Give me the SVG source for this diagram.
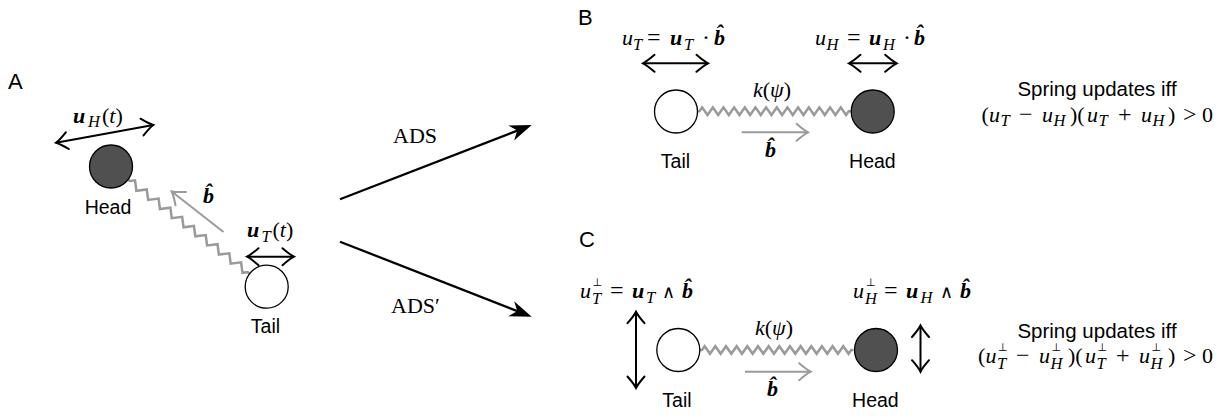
<svg xmlns="http://www.w3.org/2000/svg" width="1231" height="418" viewBox="0 0 1231 418">
<style>
.sans{font-family:"Liberation Sans",Arial,sans-serif;fill:#000}
.lbl{font-size:22px}
.nm{font-size:19.5px}
.m{font-family:"Liberation Serif","DejaVu Serif",serif;font-size:22px;fill:#000}
.it{font-style:italic}
.bi{font-style:italic;font-weight:bold}
.sb{font-size:16.5px;font-style:italic;font-weight:normal}
.op{font-family:"Liberation Serif","DejaVu Serif",serif;font-size:24px;font-style:normal;font-weight:normal}
.wedge{font-family:"DejaVu Serif",serif;font-size:18px;font-style:normal;font-weight:normal}
.perp{font-family:"DejaVu Sans",sans-serif;font-size:11px;font-style:normal}
.blk{stroke:#000;stroke-width:2;fill:none}
.gry{stroke:#9a9a9a;stroke-width:2;fill:none}
.spr{stroke:#9a9a9a;stroke-width:2.5;fill:none;stroke-linejoin:miter}
.big{stroke:#000;stroke-width:2.3;fill:none}
.tailc{fill:#fff;stroke:#000;stroke-width:1.3}
.headc{fill:#505050;stroke:#000;stroke-width:1.3}
</style>
<defs>
<marker id="oh" viewBox="-13 -10 16 20" refX="0" refY="0" markerWidth="16" markerHeight="20" markerUnits="userSpaceOnUse" orient="auto-start-reverse"><path d="M -11.5 -8.5 Q -4 -2 0 0 Q -4 2 -11.5 8.5" fill="none" stroke="#000" stroke-width="2" stroke-linecap="round"/></marker>
<marker id="ohg" viewBox="-13 -10 16 20" refX="0" refY="0" markerWidth="16" markerHeight="20" markerUnits="userSpaceOnUse" orient="auto-start-reverse"><path d="M -11.5 -8.5 Q -4 -2 0 0 Q -4 2 -11.5 8.5" fill="none" stroke="#9a9a9a" stroke-width="2" stroke-linecap="round"/></marker>
<marker id="st" viewBox="-13 -10 26 20" refX="0" refY="0" markerWidth="26" markerHeight="20" markerUnits="userSpaceOnUse" orient="auto"><path d="M 10 0 L -12 -8 L -5.5 0 L -12 8 Z" fill="#000"/></marker>
<path id="sprH" d="M0 0 L2 0 L4.67 -3.8 L10 3.8 L15.33 -3.8 L20.66 3.8 L25.99 -3.8 L31.32 3.8 L36.65 -3.8 L41.98 3.8 L47.31 -3.8 L52.64 3.8 L57.97 -3.8 L63.3 3.8 L68.63 -3.8 L73.96 3.8 L79.29 -3.8 L84.62 3.8 L89.95 -3.8 L95.28 3.8 L100.61 -3.8 L105.94 3.8 L111.27 -3.8 L116.6 3.8 L121.93 -3.8 L127.26 3.8 L132.59 -3.8 L137.92 3.8 L143.25 -3.8 L148.58 3.8 L151.24 0 L153.3 0"/>
<path id="sprA" d="M0 0 L2 0 L5.73 -3.7 L13.18 3.7 L20.63 -3.7 L28.08 3.7 L35.53 -3.7 L42.98 3.7 L50.43 -3.7 L57.88 3.7 L65.33 -3.7 L72.78 3.7 L80.23 -3.7 L87.68 3.7 L95.13 -3.7 L102.58 3.7 L110.03 -3.7 L117.48 3.7 L124.93 -3.7 L132.38 3.7 L139.83 -3.7 L147.28 3.7 L151 0 L153 0"/>
</defs>

<!-- panel letters -->
<g id="panel-labels" class="sans lbl">
<text x="8" y="89">A</text>
<text x="578" y="25">B</text>
<text x="579" y="247">C</text>
</g>

<!-- connectors -->
<g id="connectors">
<line class="big" x1="340" y1="199.3" x2="522.4" y2="128.6" marker-end="url(#st)"/>
<line class="big" x1="340" y1="241.7" x2="522.4" y2="313.1" marker-end="url(#st)"/>
<use href="#sprA" class="spr" transform="translate(128.2,179.8) rotate(37.7)"/>
<use href="#sprH" class="spr" transform="translate(697.5,111.2)"/>
<use href="#sprH" class="spr" transform="translate(700,350)"/>
<line class="blk" x1="56" y1="142.7" x2="153.3" y2="125" marker-start="url(#oh)" marker-end="url(#oh)"/>
<line class="blk" x1="247" y1="256.7" x2="294" y2="256.7" marker-start="url(#oh)" marker-end="url(#oh)"/>
<line class="gry" x1="223.5" y1="232" x2="171.7" y2="191.5" marker-end="url(#ohg)"/>
<line class="blk" x1="643" y1="63.3" x2="708" y2="63.3" marker-start="url(#oh)" marker-end="url(#oh)"/>
<line class="blk" x1="849" y1="63.3" x2="896.7" y2="63.3" marker-start="url(#oh)" marker-end="url(#oh)"/>
<line class="gry" x1="741.7" y1="132.3" x2="808" y2="132.3" marker-end="url(#ohg)"/>
<line class="blk" x1="636" y1="311.7" x2="636" y2="388" marker-start="url(#oh)" marker-end="url(#oh)"/>
<line class="blk" x1="920.5" y1="325.5" x2="920.5" y2="371.7" marker-start="url(#oh)" marker-end="url(#oh)"/>
<line class="gry" x1="745" y1="371.7" x2="810.7" y2="371.7" marker-end="url(#ohg)"/>
</g>

<!-- panel A -->
<g id="A-head">
<circle class="headc" cx="111" cy="166.5" r="21.5"/>
<text class="sans nm" x="108" y="214" text-anchor="middle">Head</text>
<text class="m" y="122.5"><tspan class="bi" x="73">u</tspan><tspan class="sb" x="88" y="127">H</tspan><tspan x="102" y="122.5">(<tspan class="it">t</tspan>)</tspan></text>
</g>
<g id="A-tail">
<circle class="tailc" cx="266.7" cy="286.7" r="21.5"/>
<text class="sans nm" x="265.5" y="333" text-anchor="middle">Tail</text>
<text class="m" y="237"><tspan class="bi" x="247">u</tspan><tspan class="sb" x="261.5" y="241.5">T</tspan><tspan x="272.5" y="237">(<tspan class="it">t</tspan>)</tspan></text>
</g>
<text class="m bi" x="203" y="203">b̂</text>
<text class="m" x="393" y="142.7">ADS</text>
<text class="m" x="391" y="312.7">ADS′</text>

<!-- panel B -->
<g id="B-tail">
<circle class="tailc" cx="676" cy="111.5" r="21.5"/>
<text class="sans nm" x="675.5" y="168" text-anchor="middle">Tail</text>
<text class="m" y="44.5"><tspan class="it" x="622">u</tspan><tspan class="sb" x="633" y="49.5">T</tspan><tspan class="op" x="647" y="44.5">=</tspan><tspan class="bi" x="670">u</tspan><tspan class="sb" x="684" y="49.5">T</tspan><tspan class="op" x="702" y="44.5">·</tspan><tspan class="bi" x="714">b̂</tspan></text>
</g>
<g id="B-head">
<circle class="headc" cx="872.7" cy="111.5" r="21.5"/>
<text class="sans nm" x="872.4" y="168" text-anchor="middle">Head</text>
<text class="m" y="44.5"><tspan class="it" x="815">u</tspan><tspan class="sb" x="826.5" y="49.5">H</tspan><tspan class="op" x="847" y="44.5">=</tspan><tspan class="bi" x="869">u</tspan><tspan class="sb" x="883" y="49.5">H</tspan><tspan class="op" x="903" y="44.5">·</tspan><tspan class="bi" x="914">b̂</tspan></text>
</g>
<text class="m" x="753" y="96.5"><tspan class="it">k</tspan>(<tspan class="it">ψ</tspan>)</text>
<text class="m bi" x="765" y="157">b̂</text>
<g id="B-rule">
<text class="sans lbl" x="1097" y="96" text-anchor="middle" style="font-size:20.5px">Spring updates iff</text>
<text class="m" y="121.5"><tspan x="981.5">(</tspan><tspan class="it" x="989">u</tspan><tspan class="sb" x="1000.5" y="126">T</tspan><tspan class="op" x="1019" y="121.5">−</tspan><tspan class="it" x="1042">u</tspan><tspan class="sb" x="1053.5" y="126">H</tspan><tspan x="1070" y="121.5">)(</tspan><tspan class="it" x="1087">u</tspan><tspan class="sb" x="1098.5" y="126">T</tspan><tspan class="op" x="1118" y="121.5">+</tspan><tspan class="it" x="1141">u</tspan><tspan class="sb" x="1152.5" y="126">H</tspan><tspan x="1168" y="121.5">)</tspan><tspan class="op" x="1183">&gt;</tspan><tspan x="1202">0</tspan></text>
</g>

<!-- panel C -->
<g id="C-tail">
<circle class="tailc" cx="678.3" cy="350" r="21.5"/>
<text class="sans nm" x="677" y="406.5" text-anchor="middle">Tail</text>
<text class="m" y="298"><tspan class="it" x="580">u</tspan><tspan class="perp" x="592.5" y="286">⊥</tspan><tspan class="sb" x="592" y="303.5">T</tspan><tspan class="op" x="610" y="298">=</tspan><tspan class="bi" x="632">u</tspan><tspan class="sb" x="646" y="303">T</tspan><tspan class="wedge" x="662" y="298">∧</tspan><tspan class="bi" x="682">b̂</tspan></text>
</g>
<g id="C-head">
<circle class="headc" cx="876" cy="350" r="21.5"/>
<text class="sans nm" x="875.4" y="406.5" text-anchor="middle">Head</text>
<text class="m" y="298"><tspan class="it" x="853">u</tspan><tspan class="perp" x="866" y="286">⊥</tspan><tspan class="sb" x="865" y="303.5">H</tspan><tspan class="op" x="884" y="298">=</tspan><tspan class="bi" x="906">u</tspan><tspan class="sb" x="920.5" y="303">H</tspan><tspan class="wedge" x="940" y="298">∧</tspan><tspan class="bi" x="960">b̂</tspan></text>
</g>
<text class="m" x="755" y="335"><tspan class="it">k</tspan>(<tspan class="it">ψ</tspan>)</text>
<text class="m bi" x="767" y="396">b̂</text>
<g id="C-rule">
<text class="sans lbl" x="1097" y="338" text-anchor="middle" style="font-size:20.5px">Spring updates iff</text>
<text class="m" y="363"><tspan x="978">(</tspan><tspan class="it" x="985.5">u</tspan><tspan class="perp" x="998" y="351">⊥</tspan><tspan class="sb" x="997" y="368.5">T</tspan><tspan class="op" x="1016" y="363">−</tspan><tspan class="it" x="1039">u</tspan><tspan class="perp" x="1051.5" y="351">⊥</tspan><tspan class="sb" x="1050.5" y="368.5">H</tspan><tspan x="1068" y="363">)(</tspan><tspan class="it" x="1085">u</tspan><tspan class="perp" x="1097.5" y="351">⊥</tspan><tspan class="sb" x="1096.5" y="368.5">T</tspan><tspan class="op" x="1116" y="363">+</tspan><tspan class="it" x="1139">u</tspan><tspan class="perp" x="1151.5" y="351">⊥</tspan><tspan class="sb" x="1150.5" y="368.5">H</tspan><tspan x="1168" y="363">)</tspan><tspan class="op" x="1183">&gt;</tspan><tspan x="1202">0</tspan></text>
</g>
</svg>
